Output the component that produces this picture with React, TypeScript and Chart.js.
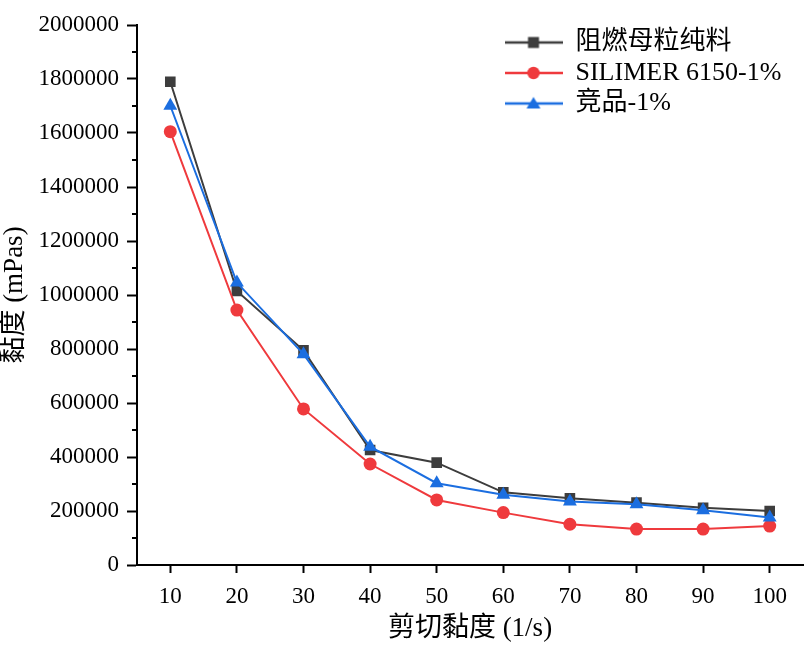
import React, { useEffect, useRef } from 'react';
import { Chart, registerables } from 'chart.js';

Chart.register(...registerables);

// ---- data ----
const shearRates = ['10', '20', '30', '40', '50', '60', '70', '80', '90', '100'];
const pureMasterbatch = [1790000, 1015000, 795000, 426000, 379000, 269000, 247000, 231000, 212000, 200000];
const silimer6150 = [1605000, 944000, 578000, 374000, 241000, 194000, 151000, 133000, 133000, 144000];
const competitor = [1701000, 1046000, 781000, 438000, 303000, 260000, 235000, 225000, 203000, 176000];

const seriesNames = ['阻燃母粒纯料', 'SILIMER 6150-1%', '竞品-1%'];
const xTitle = '剪切黏度 (1/s)';
const yTitle = '黏度 (mPas)';
const yMin = 0;
const yMax = 2000000;
const yMajorStep = 200000;
const yMinorTickValues = [100000, 300000, 500000, 700000, 900000, 1100000, 1300000, 1500000, 1700000, 1900000];

// ---- styles ----
const COLORS = ['#3d3d3d', '#ef3a3d', '#1b6ee0'];
const SHAPES = ['rect', 'circle', 'triangle'];
const RADII = [7.5, 6.5, 8];
const SERIF = '"Liberation Serif", "Noto Sans CJK SC", serif';

function makeLegendIcon(color: string, shape: string): HTMLCanvasElement {
  const c = document.createElement('canvas');
  c.width = 58;
  c.height = 24;
  const ctx = c.getContext('2d')!;
  ctx.strokeStyle = color;
  ctx.fillStyle = color;
  ctx.lineWidth = 2.6;
  ctx.beginPath();
  ctx.moveTo(0, 12);
  ctx.lineTo(58, 12);
  ctx.stroke();
  const cx = 29, cy = 12;
  ctx.beginPath();
  if (shape === 'rect') {
    ctx.rect(cx - 5.5, cy - 5.5, 11, 11);
  } else if (shape === 'circle') {
    ctx.arc(cx, cy, 6.2, 0, Math.PI * 2);
  } else {
    ctx.moveTo(cx, cy - 6.5);
    ctx.lineTo(cx + 7, cy + 5);
    ctx.lineTo(cx - 7, cy + 5);
    ctx.closePath();
  }
  ctx.fill();
  return c;
}

const minorTicksPlugin = {
  id: 'minorTicks',
  afterDraw(chart: any) {
    const y = chart.scales.y;
    const ctx = chart.ctx;
    ctx.save();
    ctx.strokeStyle = '#000';
    ctx.lineWidth = 2;
    for (const v of yMinorTickValues) {
      const py = Math.round(y.getPixelForValue(v));
      ctx.beginPath();
      ctx.moveTo(y.right - 5, py);
      ctx.lineTo(y.right, py);
      ctx.stroke();
    }
    ctx.restore();
  },
};

const legendPlacerPlugin = {
  id: 'legendPlacer',
  beforeLayout(chart: any) {
    const lg = chart.legend;
    if (!lg || lg._placerPatched) return;
    const origFit = lg.fit.bind(lg);
    lg.fit = function () {
      this.maxWidth = 311;
      origFit();
      this._realH = this.height;
      this.height = 0;
    };
    lg._placerPatched = true;
  },
  afterLayout(chart: any) {
    const lg = chart.legend;
    if (!lg) return;
    lg.left = 500;
    lg.right = 811;
    lg.width = 311;
    lg.top = 25;
    lg.height = 110;
    lg.bottom = lg.top + 110;
  },
};

export default function App() {
  const canvasRef = useRef<HTMLCanvasElement | null>(null);

  useEffect(() => {
    const canvas = canvasRef.current;
    if (!canvas) return;
    const icons = COLORS.map((c, i) => makeLegendIcon(c, SHAPES[i]));
    const seriesData = [pureMasterbatch, silimer6150, competitor];
    const orders = [2, 1, 0];

    const chart = new Chart(canvas, {
      type: 'line',
      data: {
        labels: shearRates,
        datasets: seriesData.map((d, i) => ({
          label: seriesNames[i],
          data: d,
          borderColor: COLORS[i],
          backgroundColor: COLORS[i],
          pointBackgroundColor: COLORS[i],
          pointBorderColor: COLORS[i],
          pointBorderWidth: 0,
          pointStyle: SHAPES[i] as any,
          pointRadius: RADII[i],
          borderWidth: 2,
          tension: 0,
          fill: false,
          order: orders[i],
        })),
      },
      options: {
        responsive: false,
        animation: false,
        events: [],
        layout: { padding: { top: 25, right: 6, left: 0, bottom: 0 } },
        plugins: {
          tooltip: { enabled: false },
          legend: {
            display: true,
            position: 'top',
            align: 'start',
            labels: {
              color: '#000',
              font: { family: SERIF, size: 26 },
              padding: 4.5,
              usePointStyle: true,
              pointStyleWidth: 58,
              generateLabels: (ch: any) => {
                const items = (Chart.defaults.plugins.legend.labels as any).generateLabels(ch);
                items.sort((a: any, b: any) => a.datasetIndex - b.datasetIndex);
                items.forEach((it: any) => {
                  it.pointStyle = icons[it.datasetIndex];
                  it.fontColor = '#000';
                });
                return items;
              },
            },
          },
        },
        scales: {
          x: {
            type: 'category',
            offset: true,
            grid: {
              display: true,
              drawOnChartArea: false,
              drawTicks: true,
              tickLength: 8,
              tickWidth: 2,
              tickColor: '#000',
            },
            border: { display: true, color: '#000', width: 2 },
            ticks: {
              color: '#000',
              font: { family: SERIF, size: 23 },
              padding: 10,
              maxRotation: 0,
              autoSkip: false,
            },
            title: {
              display: true,
              text: xTitle,
              color: '#000',
              font: { family: SERIF, size: 27, lineHeight: 1 },
              padding: { top: 0, bottom: 3 },
            },
            afterFit: (s: any) => {
              s.height = 80;
            },
          },
          y: {
            type: 'linear',
            min: yMin,
            max: yMax,
            grid: {
              display: true,
              drawOnChartArea: false,
              drawTicks: true,
              tickLength: 10,
              tickWidth: 2,
              tickColor: '#000',
            },
            border: { display: true, color: '#000', width: 2 },
            ticks: {
              stepSize: yMajorStep,
              color: '#000',
              font: { family: SERIF, size: 23 },
              padding: 8,
              callback: (v: any) => String(v),
            },
            title: {
              display: true,
              text: yTitle,
              color: '#000',
              font: { family: SERIF, size: 27, lineHeight: 1 },
              padding: { top: 1, bottom: 0 },
            },
            afterFit: (s: any) => {
              s.width = 137;
            },
          },
        },
      } as any,
      plugins: [minorTicksPlugin, legendPlacerPlugin],
    });

    return () => {
      chart.destroy();
    };
  }, []);

  return (
    <div style={{ position: 'absolute', left: 0, top: 0, width: 811, height: 645, background: '#fff' }}>
      <canvas ref={canvasRef} width={811} height={645} style={{ display: 'block' }} />
    </div>
  );
}
